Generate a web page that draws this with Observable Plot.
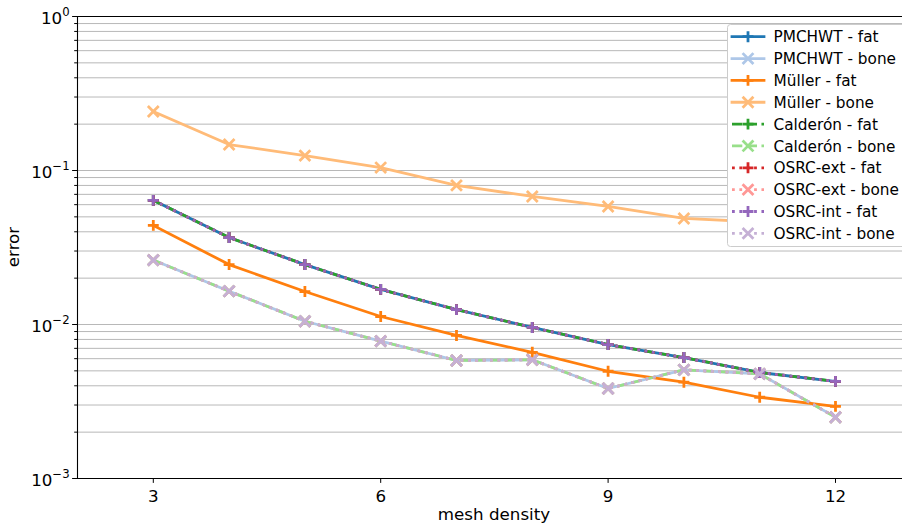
<!DOCTYPE html>
<html>
<head>
<meta charset="utf-8">
<script src="https://cdn.jsdelivr.net/npm/d3@7"></script>
<script src="https://cdn.jsdelivr.net/npm/@observablehq/plot@0.6"></script>
<style>
  body { margin: 0; background: #fff; }
  #chart { width: 902px; height: 525px; overflow: hidden; }
</style>
</head>
<body>
<div id="chart"></div>
<script>
// ---- data ----
const meshDensity = [3, 4, 5, 6, 7, 8, 9, 10, 11, 12];

const pmchwtFat   = [0.0640, 0.0367, 0.0245, 0.0169, 0.0125, 0.00957, 0.00741, 0.0061, 0.00488, 0.00427];
const pmchwtBone  = [0.0262, 0.01645, 0.0105, 0.0078, 0.00584, 0.0059, 0.00384, 0.00508, 0.00478, 0.0025];
const mullerFat   = [0.0440, 0.0245, 0.01637, 0.01127, 0.00849, 0.0066, 0.00497, 0.00422, 0.00337, 0.00294];
const mullerBone  = [0.2416, 0.1475, 0.125, 0.1045, 0.080, 0.0678, 0.0584, 0.0488, 0.0463, 0.0430];
const calderonFat = [0.0640, 0.0367, 0.0245, 0.0169, 0.0125, 0.00957, 0.00741, 0.0061, 0.00488, 0.00427];
const calderonBone= [0.0262, 0.01645, 0.0105, 0.0078, 0.00584, 0.0059, 0.00384, 0.00508, 0.00478, 0.0025];
const osrcExtFat  = [0.0640, 0.0367, 0.0245, 0.0169, 0.0125, 0.00957, 0.00741, 0.0061, 0.00488, 0.00427];
const osrcExtBone = [0.0262, 0.01645, 0.0105, 0.0078, 0.00584, 0.0059, 0.00384, 0.00508, 0.00478, 0.0025];
const osrcIntFat  = [0.0640, 0.0367, 0.0245, 0.0169, 0.0125, 0.00957, 0.00741, 0.0061, 0.00488, 0.00427];
const osrcIntBone = [0.0262, 0.01645, 0.0105, 0.0078, 0.00584, 0.0059, 0.00384, 0.00508, 0.00478, 0.0025];

const seriesNames = ["PMCHWT - fat", "PMCHWT - bone", "Müller - fat", "Müller - bone",
  "Calderón - fat", "Calderón - bone", "OSRC-ext - fat", "OSRC-ext - bone", "OSRC-int - fat", "OSRC-int - bone"];
const seriesValues = [pmchwtFat, pmchwtBone, mullerFat, mullerBone, calderonFat, calderonBone,
  osrcExtFat, osrcExtBone, osrcIntFat, osrcIntBone];

const xTicks = [3, 6, 9, 12];
const yMajorTicks = [1e-3, 1e-2, 1e-1, 1];
const yTickBase = "10";
const yTickExponents = ["\u22123", "\u22122", "\u22121", "0"];
const xLabel = "mesh density";
const yLabel = "error";

// ---- styles ----
const LW = 2.78;
const FS = 16.7;
const LEG_FS = 15.3;
const dashed = `${3.7 * LW},${1.6 * LW}`;
const dotted = `${1 * LW},${1.65 * LW}`;
const styles = [
  { color: "#1f77b4", dash: null,   symbol: "plus" },
  { color: "#aec7e8", dash: null,   symbol: "times" },
  { color: "#ff7f0e", dash: null,   symbol: "plus" },
  { color: "#ffbb78", dash: null,   symbol: "times" },
  { color: "#2ca02c", dash: dashed, symbol: "plus" },
  { color: "#98df8a", dash: dashed, symbol: "times" },
  { color: "#d62728", dash: dotted, symbol: "plus" },
  { color: "#ff9896", dash: dotted, symbol: "times" },
  { color: "#9467bd", dash: dotted, symbol: "plus" },
  { color: "#c5b0d5", dash: dotted, symbol: "times" }
];
const symbolR = { plus: 3.6, times: 5.0 };

const yMinor = [];
for (const e of [-3, -2, -1]) for (let m = 2; m <= 9; m++) yMinor.push(m * Math.pow(10, e));
const yGrid = yMajorTicks.concat(yMinor);

const marks = [];
marks.push(Plot.ruleY(yGrid, { stroke: "#b0b0b0", strokeWidth: 0.9 }));

seriesNames.forEach((name, i) => {
  const rows = meshDensity.map((x, j) => ({ x, y: seriesValues[i][j], name }));
  const st = styles[i];
  marks.push(Plot.line(rows, {
    x: "x", y: "y", stroke: st.color, strokeWidth: LW,
    strokeDasharray: st.dash || undefined, strokeLinejoin: "round",
    strokeLinecap: st.dash ? "butt" : "square"
  }));
  marks.push(Plot.dot(rows, {
    x: "x", y: "y", symbol: () => st.symbol, stroke: st.color, fill: "none",
    r: symbolR[st.symbol], strokeWidth: LW
  }));
});

// spines
marks.push(Plot.ruleY([1], { stroke: "black", strokeWidth: 1.1 }));
marks.push(Plot.ruleY([1e-3], { stroke: "black", strokeWidth: 1.1 }));
marks.push(Plot.ruleX([2], { stroke: "black", strokeWidth: 1.1 }));

marks.push(Plot.axisY(yMajorTicks, {
  tickSize: 4.9, tickPadding: 3, fontSize: FS, label: null,
  tickFormat: d => yTickBase + "^" + yTickExponents[yMajorTicks.indexOf(d)]
}));
marks.push(Plot.axisY(yMinor, { tickSize: 2.8, tickFormat: () => "", label: null }));
marks.push(Plot.axisX(xTicks, {
  tickSize: 4.9, tickPadding: 6.5, fontSize: FS, label: null
}));

const plot = Plot.plot({
  width: 902,
  height: 525,
  marginLeft: 77,
  marginRight: 0,
  marginTop: 16,
  marginBottom: 47,
  style: { fontFamily: "DejaVu Sans", fontSize: FS + "px", background: "white", color: "black" },
  x: { domain: [2, 12.884], label: null },
  y: { type: "log", domain: [1e-3, 1], label: null },
  symbol: { type: "identity" },
  marks
});

document.getElementById("chart").appendChild(plot);

const svg = d3.select(plot);

// y tick labels as 10 with a raised exponent
svg.selectAll('g[aria-label="y-axis tick label"] text').each(function () {
  const s = this.textContent;
  if (!s || s.indexOf("^") < 0) return;
  const [base, exp] = s.split("^");
  const t = d3.select(this);
  t.text(null);
  t.append("tspan").attr("dy", 2.4).text(base);
  t.append("tspan").attr("dy", -8.4).attr("font-size", 11.7).text(exp);
});

// axis titles
svg.append("text")
  .attr("x", 494).attr("y", 520)
  .attr("text-anchor", "middle")
  .attr("font-family", "DejaVu Sans").attr("font-size", FS)
  .text(xLabel);
svg.append("text")
  .attr("transform", "translate(19.3,247) rotate(-90)")
  .attr("text-anchor", "middle")
  .attr("font-family", "DejaVu Sans").attr("font-size", FS)
  .text(yLabel);

// legend
const lg = svg.append("g");
lg.append("rect")
  .attr("x", 727.5).attr("y", 24.5).attr("width", 200).attr("height", 222)
  .attr("rx", 3)
  .attr("fill", "white").attr("fill-opacity", 1)
  .attr("stroke", "#cccccc").attr("stroke-width", 1);
const symMap = { plus: d3.symbolPlus, times: d3.symbolTimes };
seriesNames.forEach((name, i) => {
  const st = styles[i];
  const y = 36.7 + i * 21.85;
  lg.append("line")
    .attr("x1", 732).attr("x2", 764).attr("y1", y).attr("y2", y)
    .attr("stroke", st.color).attr("stroke-width", LW)
    .attr("stroke-dasharray", st.dash)
    .attr("stroke-linecap", st.dash ? "butt" : "square");
  const r = symbolR[st.symbol];
  lg.append("path")
    .attr("d", d3.symbol(symMap[st.symbol], r * r * Math.PI)())
    .attr("transform", `translate(748,${y})`)
    .attr("fill", "none").attr("stroke", st.color).attr("stroke-width", LW);
  lg.append("text")
    .attr("x", 773.5).attr("y", y).attr("dy", 5.6)
    .attr("text-anchor", "start")
    .attr("font-family", "DejaVu Sans").attr("font-size", LEG_FS)
    .text(name);
});
</script>
</body>
</html>
